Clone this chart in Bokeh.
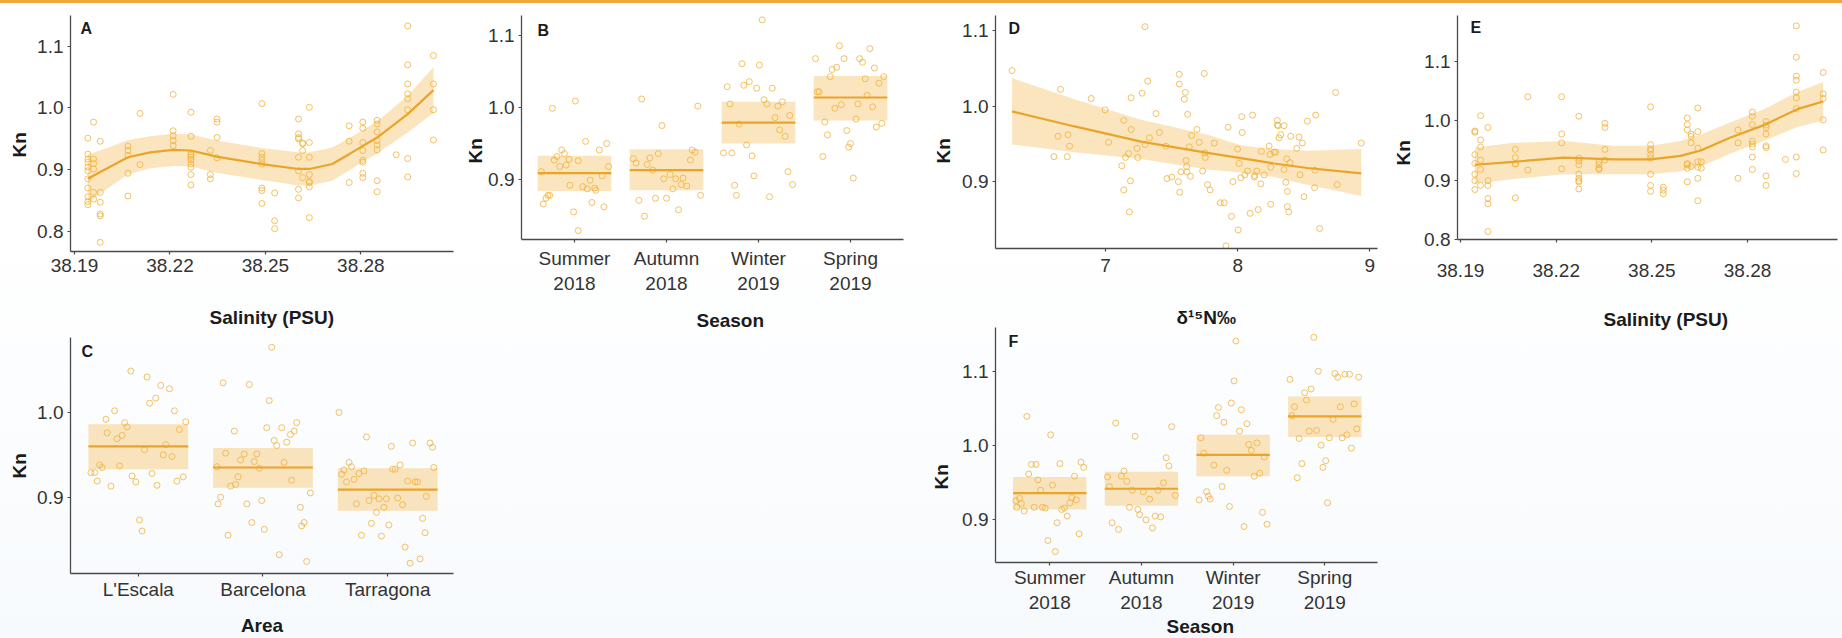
import math
from bokeh.plotting import figure
from bokeh.models import Range1d, FixedTicker, PrintfTickFormatter, Label, Title
from bokeh.layouts import row, column
from bokeh.embed import file_html
from bokeh.resources import INLINE

# ---------------- data ----------------
# Panel A: Kn vs salinity (stations) with smooth fit
A_SAL = [38.1942, 38.1960, 38.1981, 38.2068, 38.2106, 38.2210, 38.2266, 38.2327, 38.2348, 38.2489,
         38.2529, 38.2604, 38.2617, 38.2638, 38.2763, 38.2806, 38.2851, 38.2911, 38.2947, 38.3028]
A_KN = [
    [0.951, 0.925, 0.917, 0.912, 0.904, 0.898, 0.885, 0.870, 0.856, 0.848, 0.843],
    [0.977, 0.917, 0.910, 0.901, 0.863, 0.852],
    [0.946, 0.863, 0.847, 0.828, 0.825, 0.782],
    [0.938, 0.931, 0.923, 0.894, 0.857],
    [0.991, 0.908],
    [1.022, 0.963, 0.955, 0.947, 0.939],
    [0.993, 0.954, 0.925, 0.923, 0.920, 0.916, 0.909, 0.904, 0.892, 0.875],
    [0.931, 0.892, 0.885],
    [0.982, 0.977, 0.952, 0.919],
    [1.007, 0.926, 0.920, 0.915, 0.909, 0.870, 0.866, 0.845],
    [0.862, 0.817, 0.804],
    [0.982, 0.958, 0.952, 0.950, 0.920, 0.898, 0.868, 0.854],
    [0.943, 0.942, 0.931, 0.887],
    [1.001, 0.944, 0.920, 0.892, 0.881, 0.879, 0.872, 0.822],
    [0.971, 0.946, 0.879],
    [0.977, 0.967, 0.944, 0.931, 0.915, 0.912, 0.894, 0.887],
    [0.980, 0.974, 0.961, 0.947, 0.940, 0.932, 0.882, 0.864],
    [0.924],
    [1.133, 1.070, 1.039, 1.023, 1.015, 0.997, 0.918, 0.888],
    [1.085, 1.039, 0.997, 0.948],
]
A_FIT_X = [38.1942, 38.1981, 38.2068, 38.2138, 38.2210, 38.2266, 38.2346, 38.2489, 38.2604, 38.2638,
           38.2710, 38.2763, 38.2851, 38.2947, 38.3028]
A_FIT = [0.885, 0.896, 0.920, 0.928, 0.932, 0.931, 0.921, 0.909, 0.901, 0.901, 0.909, 0.925, 0.952, 0.990, 1.029]
A_LO = [0.845, 0.861, 0.892, 0.902, 0.906, 0.905, 0.895, 0.883, 0.874, 0.874, 0.882, 0.899, 0.926, 0.960, 0.992]
A_HI = [0.925, 0.931, 0.948, 0.954, 0.958, 0.957, 0.947, 0.935, 0.928, 0.928, 0.936, 0.951, 0.978, 1.020, 1.066]

# Panel B: Kn by season
SEASONS = ["Summer\n2018", "Autumn\n2018", "Winter\n2019", "Spring\n2019"]
B_JIT = [
    [-0.36, -0.34, -0.31, -0.29, -0.27, -0.24, -0.22, -0.19, -0.16, -0.14, -0.11, -0.09, -0.06, -0.05, -0.01,
     0.01, 0.04, 0.04, 0.09, 0.12, 0.14, 0.17, 0.19, 0.22, 0.23, 0.27, 0.30, 0.32, 0.35, 0.37],
    [-0.36, -0.33, -0.30, -0.27, -0.24, -0.21, -0.18, -0.15, -0.12, -0.09, -0.05, -0.03, 0.00, 0.04, 0.07,
     0.10, 0.13, 0.16, 0.18, 0.22, 0.26, 0.28, 0.31, 0.34, 0.37],
    [-0.38, -0.34, -0.31, -0.29, -0.26, -0.24, -0.21, -0.18, -0.16, -0.13, -0.10, -0.07, -0.05, -0.02, 0.01,
     0.04, 0.06, 0.09, 0.12, 0.15, 0.18, 0.21, 0.23, 0.26, 0.29, 0.32, 0.34, 0.37],
    [-0.38, -0.36, -0.34, -0.30, -0.28, -0.25, -0.22, -0.20, -0.17, -0.15, -0.12, -0.10, -0.07, -0.04, -0.02,
     0.00, 0.03, 0.06, 0.08, 0.10, 0.13, 0.16, 0.18, 0.21, 0.24, 0.26, 0.28, 0.31, 0.34, 0.36],
]
B_KN = [
    [0.911, 0.866, 0.874, 0.878, 0.878, 0.999, 0.927, 0.932, 0.918, 0.941, 0.936, 0.920, 0.928, 0.892, 0.855,
     1.009, 0.829, 0.926, 0.890, 0.953, 0.887, 0.899, 0.868, 0.888, 0.885, 0.941, 0.905, 0.862, 0.950, 0.918],
    [0.929, 0.923, 0.871, 1.012, 0.849, 0.921, 0.930, 0.913, 0.874, 0.936, 0.975, 0.901, 0.874, 0.907, 0.887,
     0.901, 0.858, 0.893, 0.902, 0.891, 0.927, 0.941, 0.938, 1.002, 0.878],
    [0.937, 1.029, 1.005, 0.937, 0.892, 0.878, 0.977, 1.061, 1.031, 0.948, 1.036, 0.933, 0.905, 1.027, 1.059,
     1.122, 1.011, 1.005, 0.876, 1.027, 0.986, 1.002, 0.969, 1.008, 0.960, 0.911, 0.989, 0.893],
    [1.068, 1.022, 1.022, 0.932, 0.980, 0.962, 1.043, 1.053, 0.999, 1.056, 1.086, 1.004, 1.068, 0.968, 0.945,
     0.950, 0.902, 0.984, 1.005, 1.068, 1.063, 1.040, 1.017, 1.082, 1.001, 1.055, 0.973, 1.034, 0.978, 1.043],
]
B_MEAN = [0.909, 0.913, 0.979, 1.014]
B_LO = [0.884, 0.885, 0.950, 0.982]
B_HI = [0.933, 0.942, 1.008, 1.044]

# Panel D: Kn vs d15N
D_N15 = [6.293, 6.610, 6.640, 6.660, 6.711, 6.716, 6.728, 6.892, 6.997, 7.023, 7.123, 7.138, 7.151, 7.138,
         7.174, 7.181, 7.189, 7.194, 7.194, 7.239, 7.244, 7.277, 7.299, 7.299, 7.319, 7.332, 7.382, 7.408,
         7.458, 7.465, 7.501, 7.551, 7.558, 7.558, 7.561, 7.571, 7.596, 7.604, 7.609, 7.614, 7.616, 7.621,
         7.634, 7.642, 7.652, 7.692, 7.709, 7.735, 7.747, 7.752, 7.755, 7.772, 7.792, 7.823, 7.868, 7.898,
         7.911, 7.928, 7.953, 7.964, 7.999, 8.004, 8.011, 8.024, 8.031, 8.034, 8.054, 8.074, 8.094, 8.112,
         8.125, 8.130, 8.145, 8.155, 8.175, 8.180, 8.200, 8.238, 8.245, 8.250, 8.250, 8.275, 8.288, 8.300,
         8.300, 8.306, 8.313, 8.326, 8.351, 8.351, 8.364, 8.371, 8.376, 8.376, 8.386, 8.396, 8.401, 8.447,
         8.464, 8.472, 8.489, 8.502, 8.527, 8.585, 8.590, 8.582, 8.620, 8.741, 8.753, 8.935]
D_KN = [1.047, 0.933, 0.960, 1.022, 0.933, 0.962, 0.947, 1.010, 0.995, 0.952, 0.921, 0.889, 0.932, 0.981,
        0.937, 0.860, 0.901, 1.011, 0.969, 0.944, 0.932, 1.017, 0.949, 1.105, 1.033, 0.958, 0.990, 0.965,
        0.947, 0.904, 0.906, 0.900, 1.042, 1.029, 0.886, 0.913, 1.009, 1.018, 0.928, 0.920, 0.913, 0.989,
        0.946, 0.907, 0.961, 0.969, 0.952, 0.914, 1.043, 0.938, 0.932, 0.896, 0.889, 0.951, 0.872, 0.872,
        0.815, 0.972, 0.854, 0.900, 0.943, 0.836, 0.924, 0.905, 0.986, 0.965, 0.909, 0.914, 0.858, 0.988,
        0.906, 0.908, 0.914, 0.863, 0.897, 0.940, 0.909, 0.947, 0.936, 0.919, 0.870, 0.939, 0.939, 0.981,
        0.975, 0.974, 0.958, 0.962, 0.974, 0.916, 0.899, 0.930, 0.887, 0.867, 0.860, 0.925, 0.960, 0.944,
        0.959, 0.909, 0.951, 0.880, 0.980, 0.915, 0.988, 0.892, 0.838, 1.018, 0.896, 0.951]
D_FIT_X = [6.293, 6.766, 7.269, 7.772, 8.024, 8.275, 8.527, 8.935]
D_FIT = [0.993, 0.973, 0.953, 0.938, 0.931, 0.924, 0.918, 0.911]
D_LO = [0.949, 0.939, 0.930, 0.916, 0.912, 0.906, 0.896, 0.881]
D_HI = [1.037, 1.009, 0.982, 0.962, 0.948, 0.943, 0.941, 0.943]

# Panel E: Kn vs salinity (second model)
E_SAL = [38.1945, 38.1963, 38.1986, 38.2072, 38.2111, 38.2217, 38.2271, 38.2334, 38.2353, 38.2496, 38.2536,
         38.2611, 38.2623, 38.2644, 38.2655, 38.2770, 38.2815, 38.2858, 38.2919, 38.2953, 38.3037]
E_KN = [
    [0.983, 0.981, 0.943, 0.928, 0.910, 0.899, 0.884],
    [1.009, 0.968, 0.956, 0.934, 0.918, 0.891],
    [0.989, 0.899, 0.891, 0.869, 0.860, 0.813],
    [0.952, 0.938, 0.928, 0.927, 0.870],
    [1.041, 0.917],
    [1.041, 0.978, 0.963, 0.919],
    [1.008, 0.937, 0.932, 0.926, 0.910, 0.903, 0.899, 0.897, 0.885],
    [0.931, 0.926, 0.920, 0.918],
    [0.996, 0.989, 0.952, 0.934],
    [1.024, 0.960, 0.953, 0.950, 0.943, 0.937, 0.910, 0.891, 0.881],
    [0.888, 0.883, 0.877],
    [1.005, 0.994, 0.985, 0.928, 0.926, 0.920, 0.897],
    [0.978, 0.974, 0.963, 0.923],
    [1.022, 0.982, 0.954, 0.931, 0.922, 0.903, 0.865],
    [0.931, 0.920],
    [0.985, 0.963, 0.903],
    [1.015, 1.008, 0.994, 0.966, 0.961, 0.956, 0.939, 0.918],
    [0.999, 0.993, 0.989, 0.978, 0.958, 0.955, 0.907, 0.891],
    [0.935],
    [1.161, 1.108, 1.076, 1.069, 1.049, 1.039, 1.021, 0.939, 0.911],
    [1.082, 1.046, 1.038, 1.002, 0.951],
]
E_FIT_X = [38.1945, 38.2067, 38.2224, 38.2381, 38.2496, 38.2590, 38.2653, 38.2747, 38.2851, 38.2956, 38.3037]
E_FIT = [0.926, 0.931, 0.938, 0.935, 0.935, 0.941, 0.950, 0.972, 0.993, 1.020, 1.033]
E_LO = [0.894, 0.902, 0.910, 0.910, 0.910, 0.915, 0.923, 0.945, 0.966, 0.990, 1.001]
E_HI = [0.955, 0.963, 0.966, 0.958, 0.958, 0.966, 0.977, 0.998, 1.020, 1.049, 1.066]

# Panel C: Kn by area
AREAS = ["L'Escala", "Barcelona", "Tarragona"]
C_JIT = [
    [-0.38, -0.35, -0.33, -0.31, -0.29, -0.26, -0.25, -0.22, -0.19, -0.17, -0.15, -0.13, -0.11, -0.09, -0.06,
     -0.05, -0.02, 0.01, 0.03, 0.05, 0.07, 0.09, 0.11, 0.14, 0.15, 0.18, 0.20, 0.22, 0.25, 0.27, 0.29, 0.31,
     0.33, 0.36, 0.38],
    [-0.37, -0.36, -0.34, -0.32, -0.30, -0.28, -0.26, -0.23, -0.22, -0.20, -0.18, -0.15, -0.13, -0.11, -0.09,
     -0.07, -0.05, -0.03, -0.01, 0.01, 0.03, 0.05, 0.07, 0.09, 0.11, 0.13, 0.15, 0.17, 0.19, 0.22, 0.23, 0.25,
     0.27, 0.30, 0.31, 0.33, 0.35, 0.38],
    [-0.39, -0.37, -0.35, -0.33, -0.31, -0.29, -0.27, -0.25, -0.23, -0.21, -0.19, -0.17, -0.15, -0.13, -0.11,
     -0.09, -0.07, -0.05, -0.03, -0.01, 0.01, 0.03, 0.04, 0.06, 0.08, 0.10, 0.12, 0.14, 0.16, 0.18, 0.20, 0.22,
     0.24, 0.26, 0.28, 0.30, 0.31, 0.34, 0.36, 0.37],
]
C_KN = [
    [0.929, 0.929, 0.919, 0.938, 0.935, 0.992, 0.976, 0.913, 1.002, 0.969, 0.937, 0.973, 0.988, 0.983, 1.049,
     0.925, 0.918, 0.873, 0.860, 0.956, 1.042, 1.011, 0.928, 1.017, 0.914, 1.032, 0.950, 0.962, 1.028, 0.948,
     1.002, 0.919, 0.980, 0.924, 0.989],
    [0.936, 0.892, 0.900, 1.035, 0.952, 0.855, 0.913, 0.978, 0.915, 0.924, 0.944, 0.951, 0.892, 1.033, 0.870,
     0.942, 0.951, 0.934, 0.896, 0.862, 0.982, 1.014, 1.077, 0.967, 0.961, 0.832, 0.982, 0.941, 0.965, 0.974,
     0.920, 0.978, 0.988, 0.888, 0.866, 0.870, 0.824, 0.905],
    [1.000, 0.927, 0.932, 0.918, 0.941, 0.936, 0.921, 0.892, 0.928, 0.855, 0.931, 0.971, 0.896, 0.869, 0.902,
     0.882, 0.898, 0.854, 0.888, 0.898, 0.867, 0.960, 0.933, 0.933, 0.899, 0.938, 0.891, 0.841, 0.919, 0.822,
     0.964, 0.918, 0.918, 0.827, 0.875, 0.858, 0.901, 0.964, 0.959, 0.935],
]
C_MEAN = [0.960, 0.935, 0.909]
C_LO = [0.933, 0.911, 0.884]
C_HI = [0.986, 0.958, 0.934]

# Panel F: Kn by season (second model)
F_JIT = [
    [-0.37, -0.36, -0.33, -0.31, -0.28, -0.25, -0.23, -0.20, -0.17, -0.15, -0.13, -0.10, -0.08, -0.05, -0.02,
     0.01, 0.03, 0.06, 0.08, 0.11, 0.13, 0.16, 0.19, 0.22, 0.24, 0.27, 0.29, 0.32, 0.34, 0.37],
    [-0.37, -0.35, -0.32, -0.28, -0.25, -0.22, -0.19, -0.16, -0.13, -0.10, -0.07, -0.04, -0.02, 0.02, 0.05,
     0.09, 0.12, 0.15, 0.18, 0.21, 0.24, 0.27, 0.30, 0.33, 0.37],
    [-0.37, -0.35, -0.32, -0.29, -0.27, -0.25, -0.21, -0.18, -0.16, -0.12, -0.10, -0.07, -0.04, -0.02, 0.01,
     0.03, 0.07, 0.09, 0.12, 0.15, 0.17, 0.20, 0.23, 0.26, 0.29, 0.32, 0.34, 0.37],
    [-0.38, -0.36, -0.33, -0.30, -0.28, -0.25, -0.22, -0.20, -0.17, -0.15, -0.12, -0.09, -0.07, -0.04, -0.02,
     0.01, 0.03, 0.05, 0.09, 0.11, 0.14, 0.17, 0.19, 0.22, 0.24, 0.27, 0.29, 0.32, 0.35, 0.37],
]
F_KN = [
    [0.925, 0.916, 0.928, 0.921, 0.911, 1.039, 0.961, 0.974, 0.916, 0.974, 0.953, 0.939, 0.916, 0.915, 0.871,
     1.014, 0.946, 0.856, 0.895, 0.975, 0.913, 0.915, 0.904, 0.922, 0.929, 0.958, 0.926, 0.880, 0.977, 0.970],
    [0.957, 0.944, 0.895, 1.030, 0.886, 0.958, 0.965, 0.951, 0.916, 0.939, 1.012, 0.913, 0.906, 0.937, 0.899,
     0.927, 0.888, 0.904, 0.939, 0.903, 0.949, 0.983, 0.972, 1.025, 0.932],
    [0.926, 1.010, 0.989, 0.937, 0.931, 0.927, 0.973, 1.040, 1.051, 0.944, 1.031, 0.966, 0.917, 1.057, 1.087,
     1.141, 1.019, 1.048, 0.890, 1.029, 1.001, 0.993, 0.958, 1.003, 0.962, 0.909, 0.984, 0.893],
    [1.089, 1.040, 1.052, 0.956, 1.009, 0.975, 1.071, 1.061, 1.019, 1.076, 1.146, 1.020, 1.100, 1.000, 0.970,
     0.979, 0.922, 1.010, 1.035, 1.097, 1.092, 1.052, 1.010, 1.096, 1.014, 1.096, 0.996, 1.056, 1.022, 1.092],
]
F_MEAN = [0.935, 0.941, 0.987, 1.039]
F_LO = [0.913, 0.918, 0.958, 1.011]
F_HI = [0.957, 0.964, 1.014, 1.066]

# ---------------- style ----------------
FONT = "Liberation Sans"
PT_COLOR = "#F3B23A"
LINE_COLOR = "#E9A42A"
BAND_COLOR = "#F5C263"
BAND_ALPHA = 0.42
AXIS_COLOR = "#4a4a4a"
TICK_TEXT = "#333333"
TITLE_TEXT = "#1b1b1b"


def make_panel(fig_box, frame, xr, yr, xticks, yticks, xfmt=None, xover=None, xstandoff=4):
    fx, fy, w, h = fig_box
    x0, x1, y0, y1 = frame
    p = figure(width=w, height=h, x_range=Range1d(*xr), y_range=Range1d(*yr),
               output_backend="svg", toolbar_location=None, tools="", title=None,
               min_border_left=x0 - fx, min_border_right=fx + w - x1,
               min_border_top=y0 - fy, min_border_bottom=fy + h - y1,
               background_fill_alpha=0, border_fill_alpha=0, outline_line_color=None)
    p.xgrid.visible = False
    p.ygrid.visible = False
    for ax in (p.xaxis[0], p.yaxis[0]):
        ax.axis_line_color = AXIS_COLOR
        ax.axis_line_width = 1.3
        ax.major_tick_line_color = AXIS_COLOR
        ax.major_tick_line_width = 1.2
        ax.major_tick_out = 3
        ax.major_tick_in = 0
        ax.minor_tick_line_color = None
        ax.major_label_text_font = FONT
        ax.major_label_text_font_size = "19px"
        ax.major_label_text_color = TICK_TEXT
        ax.axis_label_text_font = FONT
        ax.axis_label_text_font_size = "19px"
        ax.axis_label_text_font_style = "bold"
        ax.axis_label_text_color = TITLE_TEXT
    xa, ya = p.xaxis[0], p.yaxis[0]
    xa.ticker = FixedTicker(ticks=xticks)
    if xfmt:
        xa.formatter = PrintfTickFormatter(format=xfmt)
    if xover:
        xa.major_label_overrides = xover
    xa.major_label_standoff = xstandoff
    ya.ticker = FixedTicker(ticks=yticks)
    ya.formatter = PrintfTickFormatter(format="%.1f")
    ya.major_label_standoff = 4

    def to_data(px, py):
        dx = xr[0] + (px - x0) / (x1 - x0) * (xr[1] - xr[0])
        dy = yr[0] + (y1 - py) / (y1 - y0) * (yr[1] - yr[0])
        return dx, dy
    return p, to_data


def add_letter(p, to_data, pos, letter):
    x, y = to_data(*pos)
    p.add_layout(Label(x=x, y=y, text=letter, text_font=FONT, text_font_size="16px",
                       text_font_style="bold", text_color=TITLE_TEXT,
                       text_align="left", text_baseline="alphabetic"))


def side_title(p, text, side, offset, standoff, valign):
    p.add_layout(Title(text=text, align="left", offset=offset, standoff=standoff,
                       vertical_align=valign, text_font=FONT, text_font_size="19px",
                       text_font_style="bold", text_color=TITLE_TEXT), side)


def draw_smooth(p, sx, groups, fx, fit, lo, hi):
    xs, ys = [], []
    for s, vals in zip(sx, groups):
        for v in vals:
            xs.append(s)
            ys.append(v)
    p.varea(x=fx, y1=lo, y2=hi, fill_color=BAND_COLOR, fill_alpha=BAND_ALPHA)
    p.scatter(xs, ys, marker="circle", size=6, fill_color=None, line_color=PT_COLOR,
              line_alpha=0.8, line_width=1)
    p.line(fx, fit, line_color=LINE_COLOR, line_width=2.2)


def draw_groups(p, jit, kn, mean, lo, hi):
    idx = list(range(1, len(mean) + 1))
    p.quad(left=[i - 0.4 for i in idx], right=[i + 0.4 for i in idx], bottom=lo, top=hi,
           fill_color=BAND_COLOR, fill_alpha=BAND_ALPHA, line_color=None)
    xs, ys = [], []
    for i, (js, ks) in enumerate(zip(jit, kn), start=1):
        for j, k in zip(js, ks):
            xs.append(i + j)
            ys.append(k)
    p.scatter(xs, ys, marker="circle", size=6, fill_color=None, line_color=PT_COLOR,
              line_alpha=0.8, line_width=1)
    p.segment(x0=[i - 0.4 for i in idx], x1=[i + 0.4 for i in idx], y0=mean, y1=mean,
              line_color=LINE_COLOR, line_width=2.2)


season_over = {i + 1: s for i, s in enumerate(SEASONS)}
area_over = {i + 1: s for i, s in enumerate(AREAS)}

# Panel A (its x title lives in panel C's top margin)
pA, tA = make_panel((0, 0, 458, 288), (70, 455, 15, 251), (38.18875, 38.3091), (0.7671, 1.150),
                    [38.19, 38.22, 38.25, 38.28], [0.8, 0.9, 1.0, 1.1], xfmt="%.2f", xstandoff=4)
draw_smooth(pA, A_SAL, A_KN, A_FIT_X, A_FIT, A_LO, A_HI)
add_letter(pA, tA, (80, 28), "A")
side_title(pA, "Kn", "left", 94, 10, "bottom")

# Panel C
pC, tC = make_panel((0, 288, 458, 350), (69, 453, 337, 574), (0.456, 3.528), (0.8098, 1.0886),
                    [1, 2, 3], [0.9, 1.0], xover=area_over, xstandoff=2)
draw_groups(pC, C_JIT, C_KN, C_MEAN, C_LO, C_HI)
add_letter(pC, tC, (80, 351), "C")
side_title(pC, "Kn", "left", 95, 10, "bottom")
side_title(pC, "Salinity (PSU)", "above", 139, 20, "bottom")
pC.xaxis[0].axis_label = "Area"
pC.xaxis[0].axis_label_standoff = 12

# Panel B
pB, tB = make_panel((458, 0, 462, 638), (521, 903, 12, 239), (0.424, 4.576), (0.8166, 1.128),
                    [1, 2, 3, 4], [0.9, 1.0, 1.1], xover=season_over, xstandoff=5)
draw_groups(pB, B_JIT, B_KN, B_MEAN, B_LO, B_HI)
add_letter(pB, tB, (537, 27), "B")
side_title(pB, "Kn", "left", 76, 0, "bottom")
side_title(pB, "Season", "below", 175, 27, "top")

# Panel D (its x title lives in panel F's top margin)
pD, tD = make_panel((920, 0, 460, 292), (994, 1377, 15, 248), (6.1675, 9.058), (0.8115, 1.1198),
                    [7, 8, 9], [0.9, 1.0, 1.1], xfmt="%d", xstandoff=7)
draw_smooth(pD, D_N15, [[v] for v in D_KN], D_FIT_X, D_FIT, D_LO, D_HI)
add_letter(pD, tD, (1007, 28), "D")
side_title(pD, "Kn", "left", 85, 12, "bottom")

# Panel F
pF, tF = make_panel((920, 292, 460, 346), (995, 1377, 327, 564), (0.408, 4.575), (0.8412, 1.1593),
                    [1, 2, 3, 4], [0.9, 1.0, 1.1], xover=season_over, xstandoff=1)
draw_groups(pF, F_JIT, F_KN, F_MEAN, F_LO, F_HI)
add_letter(pF, tF, (1008, 341), "F")
side_title(pF, "Kn", "left", 73, 16, "bottom")
side_title(pF, "δ¹⁵N‰", "above", 181, 0, "bottom")
side_title(pF, "Season", "below", 171, 0, "top")

# Panel E
pE, tE = make_panel((1380, 0, 462, 638), (1457, 1837, 15, 250), (38.18906, 38.3082), (0.7995, 1.1785),
                    [38.19, 38.22, 38.25, 38.28], [0.8, 0.9, 1.0, 1.1], xfmt="%.2f", xstandoff=21)
draw_smooth(pE, E_SAL, E_KN, E_FIT_X, E_FIT, E_LO, E_HI)
add_letter(pE, tE, (1470, 28), "E")
side_title(pE, "Kn", "left", 74, 16, "bottom")
side_title(pE, "Salinity (PSU)", "below", 146, 58, "top")

layout = row(column(pA, pC, spacing=0), pB, column(pD, pF, spacing=0), pE, spacing=0, styles={
    "background": "linear-gradient(to bottom, #F2A73A 0px, #F2A73A 3px, #ffffff 3px, #ffffff 35%, #f7fafd 100%)"
})

open("out.html", "w").write(file_html(layout, INLINE))
